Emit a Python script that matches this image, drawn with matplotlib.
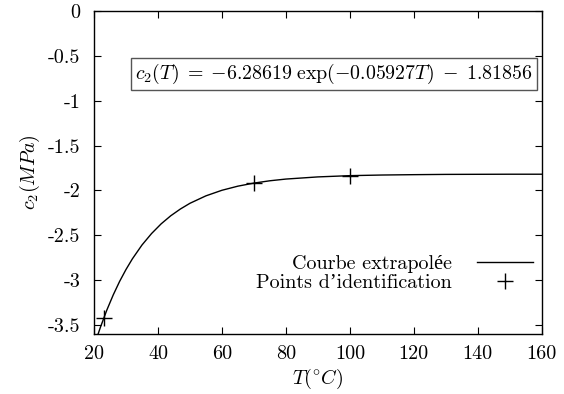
import matplotlib

matplotlib.use("Agg")
import matplotlib.pyplot as plt

plt.rcParams["font.family"] = ["cmr10", "Liberation Serif"]
plt.rcParams["mathtext.fontset"] = "cm"
plt.rcParams["axes.unicode_minus"] = False
plt.rcParams["axes.formatter.use_mathtext"] = True

# extrapolated curve
curve_T = [20, 21, 22, 24, 26, 28, 30, 32, 35, 38, 41, 44, 47, 50, 55, 60, 65,
           70, 75, 80, 90, 100, 110, 120, 130, 140, 150, 160]
curve_c2 = [-3.740, -3.629, -3.525, -3.334, -3.165, -3.014, -2.881, -2.762,
            -2.608, -2.480, -2.372, -2.282, -2.207, -2.143, -2.060, -1.998,
            -1.952, -1.918, -1.892, -1.873, -1.849, -1.835, -1.828, -1.824,
            -1.821, -1.820, -1.819, -1.819]

# identification points
pts_T = [23, 70, 100]
pts_c2 = [-3.427, -1.918, -1.835]

xticks = [20, 40, 60, 80, 100, 120, 140, 160]
yticks = [0, -0.5, -1, -1.5, -2, -2.5, -3, -3.5]
ytick_labels = ["0", "-0.5", "-1", "-1.5", "-2", "-2.5", "-3", "-3.5"]

FS = 14.5

fig = plt.figure(figsize=(5.64, 3.94), dpi=100)
ax = fig.add_axes([0.1667, 0.1523, 0.7938, 0.8197])

ax.plot(curve_T, curve_c2, color="black", lw=1.0, label="Courbe extrapolée")
ax.plot(pts_T, pts_c2, ls="none", marker="+", ms=11, mew=1.0, color="black",
        label="Points d’identification")

ax.set_xlim(20, 160)
ax.set_ylim(-3.6, 0)
ax.set_xticks(xticks)
ax.set_xticklabels([str(t) for t in xticks])
ax.set_yticks(yticks)
ax.set_yticklabels(ytick_labels)
ax.tick_params(direction="in", length=5, width=0.8, top=True, right=True,
               labelsize=FS)
ax.tick_params(axis="y", pad=10)
ax.tick_params(axis="x", pad=8)
for s in ax.spines.values():
    s.set_linewidth(1.0)

ax.set_xlabel(r"$T(^{\circ}C)$", fontsize=FS, labelpad=3)
ax.set_ylabel(r"$c_2(MPa)$", fontsize=FS, labelpad=4)

ax.text(0.092, 0.805, r"$c_2(T)\;=\;{-6.28619}\;\exp(-0.05927T)\;-\;1.81856$",
        transform=ax.transAxes, fontsize=14.3, va="center", ha="left",
        bbox=dict(boxstyle="square,pad=0.22", fc="white", ec="#555555", lw=1.0))

leg = ax.legend(loc="lower right", bbox_to_anchor=(1.0, 0.103), frameon=False,
                markerfirst=False, fontsize=FS, handlelength=2.75,
                handletextpad=1.25, labelspacing=0.05, borderpad=0,
                borderaxespad=0.45)
for t in leg.get_texts():
    t.set_ha("right")
leg._legend_box.align = "right"

fig.savefig("out.png", dpi=100, facecolor="white")
